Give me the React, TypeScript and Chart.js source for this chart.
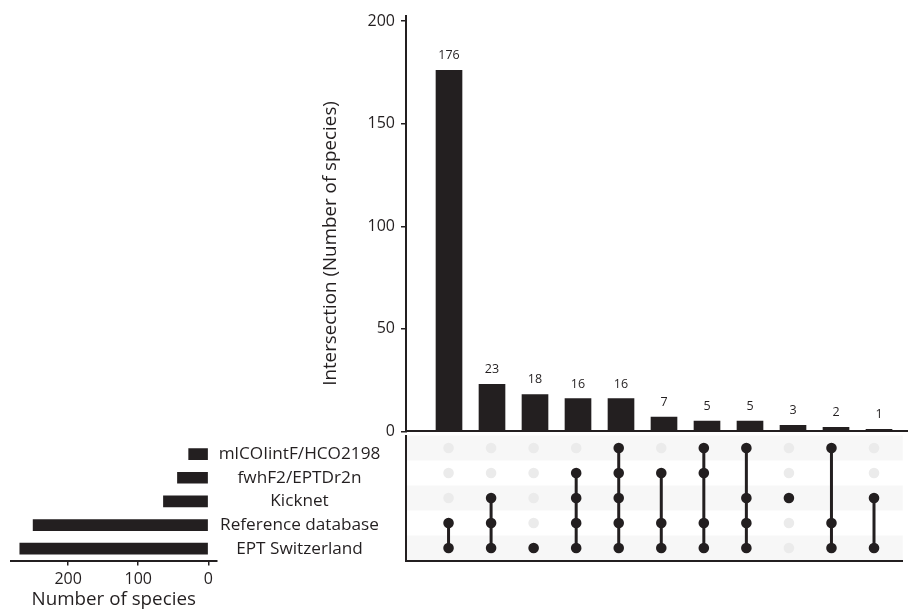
import React, { useEffect, useRef } from 'react';
import { Chart, registerables } from 'chart.js';
Chart.register(...registerables);

const setNames = ['mlCOIintF/HCO2198', 'fwhF2/EPTDr2n', 'Kicknet', 'Reference database', 'EPT Switzerland'];
const setSizes = [28, 44, 64, 250, 269];
const intersectionSizes = [176, 23, 18, 16, 16, 7, 5, 5, 3, 2, 1];
// members of each intersection, as indices into setNames
const intersectionSets = [[3, 4], [2, 3, 4], [4], [1, 2, 3, 4], [0, 1, 2, 3, 4], [1, 3, 4], [0, 1, 3, 4], [0, 2, 3, 4], [2], [0, 3, 4], [2, 4]];
const intersectionTicks = [0, 50, 100, 150, 200];
const setSizeTicks = [0, 100, 200];
const mainTitle = 'Intersection (Number of species)';
const setTitle = 'Number of species';

const DARK = '#231f20';
const FAM = "'Open Sans', sans-serif";
const X_MIN = -1;
const X_MAX = 502 / 43 - 1;

const rowOf = (s: number) => setNames.length - 1 - s;

export default function App() {
  const aRef = useRef<HTMLCanvasElement>(null);
  const bRef = useRef<HTMLCanvasElement>(null);
  const cRef = useRef<HTMLCanvasElement>(null);

  useEffect(() => {
    document.body.style.margin = '0';
    const barLabels = {
      id: 'barLabels',
      afterDatasetsDraw(chart: any) {
        const ctx = chart.ctx;
        const meta = chart.getDatasetMeta(0);
        ctx.save();
        ctx.font = `12.5px ${FAM}`;
        ctx.fillStyle = DARK;
        ctx.textAlign = 'center';
        ctx.textBaseline = 'alphabetic';
        meta.data.forEach((el: any, i: number) => {
          ctx.fillText(String(intersectionSizes[i]), el.x, el.y - 11);
        });
        // y axis title, placed as in the reference
        const ys = chart.scales.y;
        ctx.translate(ys.left + 31, 243.5);
        ctx.rotate(-Math.PI / 2);
        ctx.font = `18.8px ${FAM}`;
        ctx.textBaseline = 'middle';
        ctx.fillText(mainTitle, 0, 0);
        ctx.restore();
      },
    };

    const chartA = new Chart(aRef.current!, {
      type: 'bar',
      data: {
        datasets: [{
          data: intersectionSizes.map((v, i) => ({ x: i, y: v })),
          backgroundColor: DARK,
          barThickness: 26,
        }],
      },
      options: {
        responsive: false,
        animation: false,
        layout: { padding: { top: 15.5, right: 0, left: 0, bottom: 0 } },
        plugins: { legend: { display: false }, tooltip: { enabled: false } },
        scales: {
          x: {
            type: 'linear', min: X_MIN, max: X_MAX, offset: false,
            ticks: { display: false },
            grid: { display: false, drawTicks: false, offset: false },
            border: { display: true, color: DARK, width: 2 },
            afterFit: (s: any) => { s.height = 12.5; },
          },
          y: {
            type: 'linear', min: 0, max: 202.7,
            afterBuildTicks: (s: any) => { s.ticks = intersectionTicks.map(v => ({ value: v })); },
            ticks: { font: { family: FAM, size: 16 }, color: DARK, padding: 6 },
            grid: { drawOnChartArea: false, tickLength: 5, color: DARK, lineWidth: 1.5 },
            border: { color: DARK, width: 2 },
            title: { display: false },
            afterFit: (s: any) => { s.width = 106; },
          },
        },
      } as any,
      plugins: [barLabels],
    });

    const bands = {
      id: 'bands',
      beforeDraw(chart: any) {
        const ctx = chart.ctx;
        const ys = chart.scales.y;
        const { left, right } = chart.chartArea;
        ctx.save();
        ctx.fillStyle = '#f7f7f7';
        for (let s = 0; s < setNames.length; s += 2) {
          const r = rowOf(s);
          const t = ys.getPixelForValue(r + 0.5);
          const b = ys.getPixelForValue(r - 0.5);
          ctx.fillRect(left, t, right - left, b - t);
        }
        ctx.restore();
      },
    };

    const grayPts: any[] = [];
    const blackPts: any[] = [];
    const lineSets: any[] = [];
    intersectionSets.forEach((mem, i) => {
      const rows = mem.map(rowOf);
      const lo = Math.min(...rows);
      const hi = Math.max(...rows);
      setNames.forEach((_, s) => {
        const r = rowOf(s);
        if (mem.includes(s)) blackPts.push({ x: i, y: r });
        else if (mem.length < 2 || r < lo || r > hi) grayPts.push({ x: i, y: r });
      });
      if (mem.length > 1) {
        lineSets.push({
          data: [{ x: i, y: lo }, { x: i, y: hi }],
          showLine: true, borderColor: DARK, borderWidth: 3, pointRadius: 0, order: 2,
        });
      }
    });

    const chartB = new Chart(bRef.current!, {
      type: 'scatter',
      data: {
        datasets: [
          { data: blackPts, backgroundColor: DARK, borderWidth: 0, pointRadius: 5.3, order: 1 },
          ...lineSets,
          { data: grayPts, backgroundColor: '#ebebeb', borderWidth: 0, pointRadius: 5.3, order: 3 },
        ],
      },
      options: {
        responsive: false,
        animation: false,
        layout: { padding: { top: 5.5, right: 0, left: 0, bottom: 0 } },
        plugins: { legend: { display: false }, tooltip: { enabled: false } },
        scales: {
          x: {
            type: 'linear', min: X_MIN, max: X_MAX,
            ticks: { display: false },
            grid: { display: false, drawTicks: false },
            border: { display: true, color: DARK, width: 2 },
            afterFit: (s: any) => { s.height = 9.5; },
          },
          y: {
            type: 'linear', min: -0.5, max: 4.5,
            ticks: { display: false },
            grid: { display: false, drawTicks: false },
            border: { display: true, color: DARK, width: 2 },
            afterFit: (s: any) => { s.width = 6; },
          },
        },
      } as any,
      plugins: [bands],
    });

    const chartC = new Chart(cRef.current!, {
      type: 'bar',
      data: {
        labels: setNames,
        datasets: [{ data: setSizes, backgroundColor: DARK, barThickness: 11 }],
      },
      options: {
        indexAxis: 'y',
        responsive: false,
        animation: false,
        layout: { padding: { top: 5.5, right: 0, left: 10.7, bottom: 0 } },
        plugins: { legend: { display: false }, tooltip: { enabled: false } },
        scales: {
          x: {
            type: 'linear', reverse: true, min: -12, max: 282,
            afterBuildTicks: (s: any) => { s.ticks = setSizeTicks.map(v => ({ value: v })); },
            ticks: { font: { family: FAM, size: 16 }, color: DARK, padding: 4 },
            grid: { drawOnChartArea: false, tickLength: 5, color: DARK, lineWidth: 1.5 },
            border: { color: DARK, width: 2 },
            title: { display: true, text: setTitle, font: { family: FAM, size: 18.8, lineHeight: 1 }, color: DARK, padding: { top: 0, bottom: 0 } },
            afterFit: (s: any) => { s.height = 48.5; },
          },
          y: {
            type: 'category', position: 'right',
            grid: { display: false, drawTicks: false },
            border: { display: false },
            ticks: { font: { family: FAM, size: 17.2 }, color: DARK, crossAlign: 'center', padding: 2, autoSkip: false },
            afterFit: (s: any) => { s.width = 400 - 216.7; },
          },
        },
      } as any,
    });

    return () => { chartA.destroy(); chartB.destroy(); chartC.destroy(); };
  }, []);

  return (
    <div style={{ position: 'relative', width: 908, height: 609, overflow: 'hidden', background: '#fff' }}>
      <canvas ref={bRef} width={508} height={140} style={{ position: 'absolute', left: 400, top: 430 }} />
      <canvas ref={cRef} width={400} height={179} style={{ position: 'absolute', left: 0, top: 430 }} />
      <canvas ref={aRef} width={608} height={447} style={{ position: 'absolute', left: 300, top: 0 }} />
    </div>
  );
}
